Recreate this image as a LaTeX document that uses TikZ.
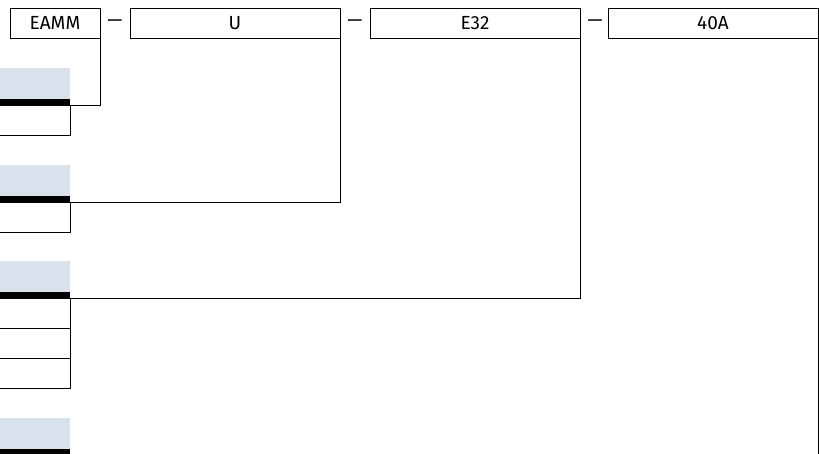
\documentclass[tikz,border=0pt]{standalone}
\usepackage{fontspec}
\setmainfont{Fira Sans}
\usepackage{tikz}
\usepackage{color}
\definecolor{headblue}{HTML}{D9E2EC}

\begin{document}
\begin{tikzpicture}[x=1pt,y=-1pt]
        \tikzstyle{label text}=[font=\fontsize{19}{22}\selectfont]
        \tikzstyle{code box}=[label text,draw,line width=1pt,minimum height=30pt,inner sep=0pt]
        \tikzstyle{sep}=[label text,inner sep=0pt]
        \tikzstyle{head}=[fill=headblue,minimum width=75pt,minimum height=31pt,inner sep=0pt]
        \tikzstyle{bar}=[fill=black,minimum width=75pt,minimum height=6pt,inner sep=0pt,node distance=18.5pt]
        \tikzstyle{row}=[draw,line width=1pt,minimum width=75pt,minimum height=30pt,inner sep=0pt,node distance=18pt]
        \tikzstyle{next row}=[row,node distance=30pt]
        \tikzstyle{link}=[line width=1pt]
        \clip (0,0) rectangle (819,453);
        \useasboundingbox (0,0) rectangle (819,453);
        % type code
        \node[code box,minimum width=90pt] (eamm) at (55,23) {EAMM};
        \node[sep] (dash1) at (115,23) {---};
        \node[code box,minimum width=210pt] (u) at (235,23) {U};
        \node[sep] (dash2) at (355,23) {---};
        \node[code box,minimum width=210pt] (e32) at (475,23) {E32};
        \node[sep] (dash3) at (595,23) {---};
        \node[code box,minimum width=210pt] (a40) at (713,23) {40A};
        % tables on the left
        \node[head] (head1) at (32.5,83.5) {};
        \node[bar] (bar1) [below of=head1] {};
        \node[row] (row1) [below of=bar1] {};
        \node[head] (head2) at (32.5,180.5) {};
        \node[bar] (bar2) [below of=head2] {};
        \node[row] (row2) [below of=bar2] {};
        \node[head] (head3) at (32.5,276.5) {};
        \node[bar] (bar3) [below of=head3] {};
        \node[row] (row3a) [below of=bar3] {};
        \node[next row] (row3b) [below of=row3a] {};
        \node[next row] (row3c) [below of=row3b] {};
        \node[head] (head4) at (32.5,433.5) {};
        \node[bar] (bar4) [below of=head4] {};
        \coordinate (end4) at (a40.south east |- bar4.south);
        % links
        \draw[link] (eamm.south east) |- (bar1.south east);
        \draw[link] (u.south east) |- (bar2.south east);
        \draw[link] (e32.south east) |- (bar3.south east);
        \draw[link] (a40.south east) -- (end4);
    \end{tikzpicture}
\end{document}
